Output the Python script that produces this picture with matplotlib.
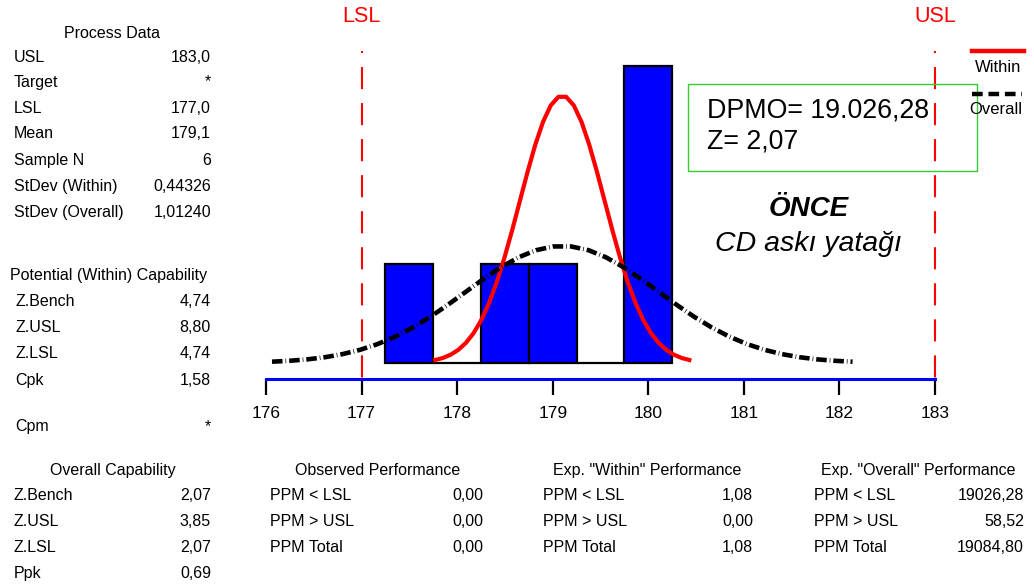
import numpy as np
import matplotlib
matplotlib.use("Agg")
import matplotlib.pyplot as plt
from matplotlib.lines import Line2D
from matplotlib.patches import Rectangle

plt.rcParams['font.family'] = ['Liberation Sans', 'DejaVu Sans']

# ---- process data ----
lsl = 177.0
usl = 183.0
mean = 179.1
n_samples = 6
sd_within = 0.44326
sd_overall = 1.01240

bin_centers = [177.5, 178.0, 178.5, 179.0, 179.5, 180.0]
bin_counts = [1, 0, 1, 1, 0, 3]
bin_width = 0.5

x_ticks = [176, 177, 178, 179, 180, 181, 182, 183]

# ---- summary tables ----
process_labels = ["USL", "Target", "LSL", "Mean", "Sample N", "StDev (Within)", "StDev (Overall)"]
process_values = ["183,0", "*", "177,0", "179,1", "6", "0,44326", "1,01240"]

within_labels = ["Z.Bench", "Z.USL", "Z.LSL", "Cpk", "Cpm"]
within_values = ["4,74", "8,80", "4,74", "1,58", "*"]

overall_labels = ["Z.Bench", "Z.USL", "Z.LSL", "Ppk"]
overall_values = ["2,07", "3,85", "2,07", "0,69"]

ppm_labels = ["PPM < LSL", "PPM > USL", "PPM Total"]
observed_values = ["0,00", "0,00", "0,00"]
exp_within_values = ["1,08", "0,00", "1,08"]
exp_overall_values = ["19026,28", "58,52", "19084,80"]

dpmo_text = "DPMO= 19.026,28"
z_text = "Z= 2,07"

W, H = 1034, 587
fig = plt.figure(figsize=(W / 100, H / 100), dpi=100)


def fx(px):
    return px / W


def fy(py):
    return 1 - py / H


# main histogram axes: x 176..183, bottom spine at the blue axis line
ax_left, ax_right, ax_bottom, ax_top = 266, 935, 379, 51
ax = fig.add_axes([fx(ax_left), fy(ax_bottom), fx(ax_right - ax_left), (ax_bottom - ax_top) / H])
px_per_count = 99.0
ax.set_xlim(176, 183)
ax.set_ylim(-16 / px_per_count, (363 - ax_top) / px_per_count)

ax.bar(bin_centers, bin_counts, width=bin_width, color="#0000ff",
       edgecolor="black", linewidth=1.6, zorder=2)


def normal_curve(mu, sd):
    xs = np.linspace(mu - 3 * sd, mu + 3 * sd, 34)
    ys = n_samples * bin_width * np.exp(-0.5 * ((xs - mu) / sd) ** 2) / (sd * np.sqrt(2 * np.pi))
    return xs, ys


xw, yw = normal_curve(mean, sd_within)
ax.plot(xw, yw, color="#ff0000", lw=3.0, zorder=4, clip_on=False, solid_joinstyle="round")

xo, yo = normal_curve(mean, sd_overall)
ax.plot(xo, yo, color="black", lw=3.3, zorder=5, clip_on=False,
        linestyle=(0, (2.3, 0.65, 0.15, 0.65)), dash_capstyle="butt")

for spec in (lsl, usl):
    ax.plot([spec, spec], [ax.get_ylim()[1], ax.get_ylim()[0]], color="#ff0000",
            lw=1.5, linestyle=(9.6, (10.6, 6.7)), zorder=3, clip_on=False)

for side in ("top", "right", "left"):
    ax.spines[side].set_visible(False)
ax.spines["bottom"].set_color("#0000ff")
ax.spines["bottom"].set_linewidth(2.2)
ax.set_yticks([])
ax.set_xticks(x_ticks)
ax.set_xticklabels([str(t) for t in x_ticks])
ax.tick_params(axis="x", direction="out", length=11.5, width=1.6, color="black",
               pad=8, labelsize=12.5)
ax.patch.set_alpha(0)

# spec limit labels
fig.text(fx(361), fy(22), "LSL", color="#ff0000", fontsize=15.5, ha="center", va="baseline")
fig.text(fx(935), fy(22), "USL", color="#ff0000", fontsize=15.5, ha="center", va="baseline")

# legend at the top right
fig.add_artist(Line2D([fx(972), fx(1024)], [fy(50.5), fy(50.5)], color="#ff0000", lw=3.2))
fig.text(fx(998), fy(71.5), "Within", fontsize=12, ha="center", va="baseline")
fig.add_artist(Line2D([fx(972), fx(1022)], [fy(93.5), fy(93.5)], color="black", lw=3.2,
                      linestyle=(0, (2.4, 1.3)), dash_capstyle="butt"))
fig.text(fx(996), fy(113.5), "Overall", fontsize=12, ha="center", va="baseline")

# DPMO box
fig.add_artist(Rectangle((fx(688), fy(171)), fx(977 - 688), (171 - 84) / H,
                         fill=False, edgecolor="#33cc33", lw=1.0, transform=fig.transFigure))
fig.text(fx(707), fy(117.5), dpmo_text, fontsize=19.3, ha="left", va="baseline")
fig.text(fx(707), fy(149), z_text, fontsize=19.3, ha="left", va="baseline")

fig.text(fx(809), fy(216.5), "ÖNCE", fontsize=20, fontweight="bold", fontstyle="italic",
         ha="center", va="baseline")
fig.text(fx(808), fy(251), "CD askı yatağı", fontsize=20.5, fontstyle="italic",
         ha="center", va="baseline")

TS = 11.5


def table(title, title_x, title_y, labels, values, label_x, value_x, rows_y, title_ha="center"):
    fig.text(fx(title_x), fy(title_y), title, fontsize=TS, ha=title_ha, va="baseline")
    for lab, val, ry in zip(labels, values, rows_y):
        fig.text(fx(label_x), fy(ry), lab, fontsize=TS, ha="left", va="baseline")
        fig.text(fx(value_x), fy(ry), val, fontsize=TS, ha="right", va="baseline")


table("Process Data", 112, 38, process_labels, process_values, 14, 211,
      [62.5, 86.5, 113, 138, 165, 191, 217])
table("Potential (Within) Capability", 10, 280, within_labels, within_values, 15, 211,
      [306, 332, 358, 385, 431], title_ha="left")
table("Overall Capability", 113, 475, overall_labels, overall_values, 14, 211,
      [500, 526, 552, 578])
table("Observed Performance", 378, 475, ppm_labels, observed_values, 270, 483,
      [500, 526, 552])
table('Exp. "Within" Performance', 647, 475, ppm_labels, exp_within_values, 543, 753,
      [500, 526, 552])
table('Exp. "Overall" Performance', 918, 475, ppm_labels, exp_overall_values, 814, 1024,
      [500, 526, 552])

fig.savefig("out.png", dpi=100)
